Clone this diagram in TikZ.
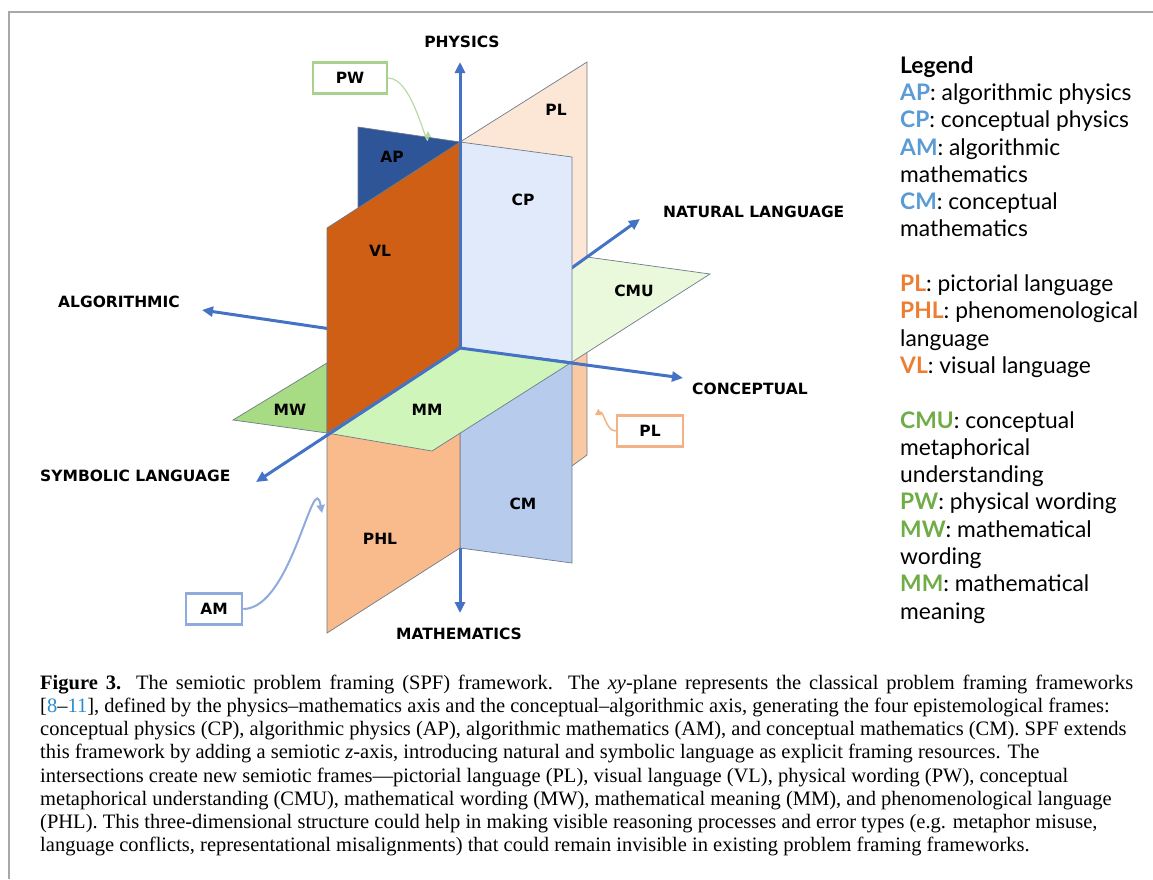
\documentclass[tikz,border=0pt]{standalone}
\usepackage{fontspec}
\setmainfont{Liberation Serif}
\newfontfamily\axisfont{DejaVu Sans}
\newfontfamily\legendfont{Lato}
\usetikzlibrary{arrows.meta}
\definecolor{AxisBlue}{HTML}{4472C4}
\definecolor{EdgeGray}{HTML}{6F7B88}
\definecolor{FrameGray}{HTML}{A8A8A8}
\definecolor{VLOrange}{HTML}{CF5F14}
\definecolor{APBlue}{HTML}{2E5597}
\definecolor{CPBlue}{HTML}{E1EAFA}
\definecolor{CMBlue}{HTML}{B7CBEC}
\definecolor{PLPeach}{HTML}{FCE6D5}
\definecolor{LowPeach}{HTML}{F9C9A3}
\definecolor{PHLPeach}{HTML}{F9BA8C}
\definecolor{MWGreen}{HTML}{A8DC84}
\definecolor{MMGreen}{HTML}{D0F5BA}
\definecolor{CMUGreen}{HTML}{EAF8DC}
\definecolor{KeyBlue}{HTML}{5B9BD5}
\definecolor{KeyOrange}{HTML}{ED7D31}
\definecolor{KeyGreen}{HTML}{70AD47}
\definecolor{PWBorder}{HTML}{A9D18E}
\definecolor{PLBorder}{HTML}{F4B183}
\definecolor{AMBorder}{HTML}{8FAADC}
\definecolor{CiteBlue}{HTML}{2A8BD0}
\newcommand{\legkey}[2]{\textcolor{#1}{\textbf{#2}}}

\begin{document}
\begin{tikzpicture}[x=1pt,y=-1pt,
  axis/.style={AxisBlue,line width=3pt,-{Triangle[length=11pt,width=10pt]}},
  plane/.style={draw=EdgeGray,line width=0.7pt},
  tag/.style={font=\axisfont\bfseries\fontsize{15.5}{18}\selectfont,inner sep=0pt},
  callout/.style={draw,line width=2.5pt,minimum height=31pt,inner sep=0pt,fill=white,
    font=\axisfont\bfseries\fontsize{15.5}{18}\selectfont}]
  \useasboundingbox (0,0) rectangle (1153,879);
  % frame
  \draw[FrameGray,line width=1.5pt] (9,879) -- (9,12) -- (1153,12);

  % corners of the three planes
  \coordinate (O) at (460,348);
  \coordinate (TF) at (327,228);
  \coordinate (TM) at (460,142);
  \coordinate (TB) at (587,62);
  \coordinate (MF) at (327,433);
  \coordinate (MB) at (587,257);
  \coordinate (BF) at (327,633);
  \coordinate (BM) at (460,548);
  \coordinate (BB) at (587,455);
  \coordinate (CE) at (572,362);
  \coordinate (HR) at (710,274);
  \coordinate (HF) at (432,451);
  \coordinate (HL) at (233,420);
  % axis tips
  \coordinate (physTip) at (460,62);
  \coordinate (mathTip) at (460,613);
  \coordinate (algTip) at (202,310);
  \coordinate (concTip) at (683,378);
  \coordinate (natTip) at (640,219);
  \coordinate (symTip) at (256,482);

  % back planes
  \filldraw[plane,fill=PLPeach] (TM) -- (TB) -- (MB) -- (O) -- cycle;
  \filldraw[plane,fill=LowPeach] (O) -- (MB) -- (BB) -- (BM) -- cycle;
  \filldraw[plane,fill=APBlue] (358,127) -- (TM) -- (O) -- (358,333) -- cycle;
  \draw[axis] (O) -- (algTip);
  \filldraw[plane,fill=CMUGreen] (O) -- (CE) -- (HR) -- (MB) -- cycle;
  \draw[axis] (O) -- (natTip);
  \filldraw[plane,fill=CPBlue] (TM) -- (572,157) -- (CE) -- (O) -- cycle;
  \filldraw[plane,fill=CMBlue] (O) -- (CE) -- (572,563) -- (BM) -- cycle;
  \filldraw[plane,fill=PHLPeach] (MF) -- (O) -- (BM) -- (BF) -- cycle;
  % front planes
  \filldraw[plane,fill=MWGreen] (HL) -- (327,363) -- (MF) -- cycle;
  \filldraw[plane,fill=MMGreen] (O) -- (MF) -- (HF) -- (CE) -- cycle;
  \filldraw[plane,fill=VLOrange] (TF) -- (TM) -- (O) -- (MF) -- cycle;

  % front axes
  \draw[axis] (O) -- (concTip);
  \draw[axis] (O) -- (symTip);
  \draw[axis] (O) -- (physTip);
  \draw[axis] (BM) -- (mathTip);

  % axis names
  \node[tag] (physics) at (462,42) {PHYSICS};
  \node[tag] (mathematics) at (459,634) {MATHEMATICS};
  \node[tag,anchor=west] (natural) at (663,212) {NATURAL LANGUAGE};
  \node[tag,anchor=west] (conceptual) at (692,389) {CONCEPTUAL};
  \node[tag,anchor=east] (algorithmic) at (180,302) {ALGORITHMIC};
  \node[tag,anchor=west] (symbolic) at (40,476) {SYMBOLIC LANGUAGE};

  % frame names
  \node[tag] (ap) at (392,157) {AP};
  \node[tag] (plTop) at (556,110) {PL};
  \node[tag] (cp) at (523,200) {CP};
  \node[tag] (vl) at (380,251) {VL};
  \node[tag] (cmu) at (634,291) {CMU};
  \node[tag] (mw) at (290,410) {MW};
  \node[tag] (mm) at (427,410) {MM};
  \node[tag] (cm) at (523,504) {CM};
  \node[tag] (phl) at (380,539) {PHL};

  % callouts
  \node[callout,draw=PWBorder,minimum width=74pt] (pwBox) at (350,78) {PW};
  \node[callout,draw=PLBorder,minimum width=66pt] (plBox) at (650,431) {PL};
  \node[callout,draw=AMBorder,minimum width=56pt] (amBox) at (214,609) {AM};
  \coordinate (pwTip) at (428,131);
  \coordinate (plTip) at (595,415);
  \coordinate (amTip) at (322,513);
  \draw[PWBorder!80,line width=1.2pt,-{Triangle[length=6pt,width=6pt]}]
    (pwBox.east) to[out=0,in=270] (pwTip);
  \draw[PLBorder,line width=1.5pt,-{Triangle[length=6pt,width=7pt]}]
    (plBox.west) to[out=180,in=30] (plTip);
  \draw[AMBorder,line width=2pt,-{Triangle[length=8pt,width=8pt]}]
    (amBox.east) to[out=0,in=100] (amTip);

  % legend
  \node[anchor=north west,inner sep=0pt,align=left,
    font=\legendfont\fontsize{22.8}{27.3}\selectfont] (legend) at (900,56) {%
    \textbf{Legend}\\
    \legkey{KeyBlue}{AP}: algorithmic physics\\
    \legkey{KeyBlue}{CP}: conceptual physics\\
    \legkey{KeyBlue}{AM}: algorithmic\\
    mathematics\\
    \legkey{KeyBlue}{CM}: conceptual\\
    mathematics\\[27.3pt]
    \legkey{KeyOrange}{PL}: pictorial language\\
    \legkey{KeyOrange}{PHL}: phenomenological\\
    language\\
    \legkey{KeyOrange}{VL}: visual language\\[27.3pt]
    \legkey{KeyGreen}{CMU}: conceptual\\
    metaphorical\\
    understanding\\
    \legkey{KeyGreen}{PW}: physical wording\\
    \legkey{KeyGreen}{MW}: mathematical\\
    wording\\
    \legkey{KeyGreen}{MM}: mathematical\\
    meaning};

  % caption
  \node[anchor=north west,inner sep=0pt,align=left,
    font=\fontsize{20.5}{23.1}\selectfont] (caption) at (40,675) {%
    \makebox[1093pt][s]{\textbf{Figure 3.} The semiotic problem framing (SPF) framework. The \textit{xy}-plane represents the classical problem framing frameworks}\\
    {}[{\color{CiteBlue}8}–{\color{CiteBlue}11}], defined by the physics–mathematics axis and the conceptual–algorithmic axis, generating the four epistemological frames:\\
    conceptual physics (CP), algorithmic physics (AP), algorithmic mathematics (AM), and conceptual mathematics (CM). SPF extends\\
    this framework by adding a semiotic \textit{z}-axis, introducing natural and symbolic language as explicit framing resources. The\\
    intersections create new semiotic frames—pictorial language (PL), visual language (VL), physical wording (PW), conceptual\\
    metaphorical understanding (CMU), mathematical wording (MW), mathematical meaning (MM), and phenomenological language\\
    (PHL). This three-dimensional structure could help in making visible reasoning processes and error types (e.g. metaphor misuse,\\
    language conflicts, representational misalignments) that could remain invisible in existing problem framing frameworks.};
\end{tikzpicture}
\end{document}
